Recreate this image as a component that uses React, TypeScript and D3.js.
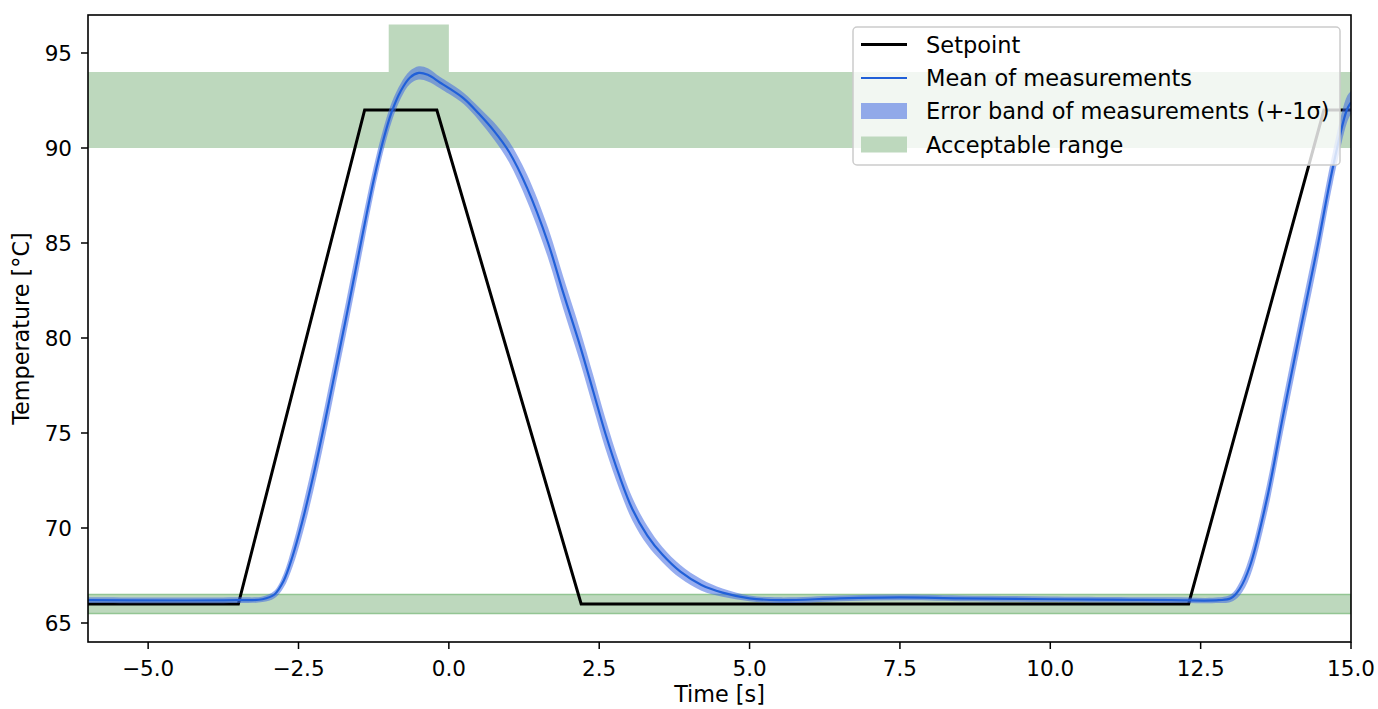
import React from 'react'
import * as d3 from 'd3'

// time axis of the measurement trace [s]
const timeS = [
  -6.0, -3.5, -3.1, -2.9, -2.75, -2.6, -2.44, -2.25, -2.06, -1.88, -1.7, -1.55,
  -1.4, -1.25, -1.1, -0.95, -0.8, -0.65, -0.5, -0.35, -0.15, 0.0, 0.25, 0.5,
  0.75, 1.0, 1.3, 1.65, 1.9, 2.18, 2.4, 2.6, 2.84, 3.05, 3.3, 3.55, 3.85, 4.2,
  4.55, 5.0, 5.5, 6.5, 7.5, 8.5, 10.0, 12.0, 12.8, 13.0, 13.15, 13.32, 13.6,
  13.87, 14.15, 14.43, 14.7, 14.93, 15.0
]
// mean of measurements [°C]
const meanTemp = [
  66.2, 66.2, 66.25, 66.5, 67.2, 68.5, 70.3, 72.8, 75.6, 78.4, 81.2, 83.6,
  86.0, 88.3, 90.3, 91.9, 93.0, 93.7, 93.95, 93.85, 93.45, 93.15, 92.6, 91.8,
  90.9, 89.8, 87.9, 85.0, 82.4, 79.6, 77.2, 75.0, 72.7, 71.0, 69.6, 68.6, 67.7,
  67.0, 66.6, 66.3, 66.2, 66.3, 66.35, 66.3, 66.25, 66.2, 66.2, 66.3, 66.8,
  68.0, 71.5, 75.9, 80.3, 84.6, 89.0, 92.0, 92.4
]
// standard deviation of measurements [°C]
const sigmaTemp = [
  0.15, 0.15, 0.15, 0.2, 0.35, 0.55, 0.7, 0.8, 0.85, 0.85, 0.85, 0.85,
  0.8, 0.7, 0.6, 0.5, 0.4, 0.35, 0.35, 0.35, 0.3, 0.3, 0.3, 0.35,
  0.45, 0.55, 0.7, 0.8, 0.85, 0.85, 0.85, 0.8, 0.7, 0.6, 0.5, 0.4, 0.35,
  0.3, 0.22, 0.15, 0.15, 0.15, 0.15, 0.15, 0.15, 0.15, 0.15, 0.2, 0.35,
  0.55, 0.75, 0.85, 0.85, 0.85, 0.8, 0.7, 0.6
]

const setpointTime = [-6, -3.5, -1.4, -0.2, 2.2, 12.3, 14.55, 15]
const setpointTemp = [66, 66, 92, 92, 66, 66, 92, 92]

// acceptable range boxes
const rangeX0 = [-6, -1, -6]
const rangeX1 = [15, 0, 15]
const rangeLow = [90, 94, 65.5]
const rangeHigh = [94, 96.5, 66.5]

const xTicks = [-5, -2.5, 0, 2.5, 5, 7.5, 10, 12.5, 15]
const yTicks = [65, 70, 75, 80, 85, 90, 95]

const legendLabels = [
  'Setpoint',
  'Mean of measurements',
  'Error band of measurements (+-1σ)',
  'Acceptable range'
]

const W = 1378
const H = 709
const margin = { top: 15, right: 27, bottom: 67, left: 88 }
const font = 'DejaVu Sans, sans-serif'
const green = '#bdd8bd'
const blueBand = '#4169e1'
const blueLine = '#2160d8'

const App = () => {
  const x = d3.scaleLinear().domain([-6, 15]).range([margin.left, W - margin.right])
  const y = d3.scaleLinear().domain([64, 97]).range([H - margin.bottom, margin.top])

  const meas = timeS.map((t, i) => ({ t, m: meanTemp[i], s: sigmaTemp[i] }))
  const sp = setpointTime.map((t, i) => ({ t, v: setpointTemp[i] }))

  const curve = d3.curveCatmullRom.alpha(0.5)
  const meanLine = d3
    .line<any>()
    .x((d) => x(d.t))
    .y((d) => y(d.m))
    .curve(curve)
  const band = d3
    .area<any>()
    .x((d) => x(d.t))
    .y0((d) => y(d.m - d.s))
    .y1((d) => y(d.m + d.s))
    .curve(curve)
  const spLine = d3
    .line<any>()
    .x((d) => x(d.t))
    .y((d) => y(d.v))

  const fmt = d3.format('.1f')
  const x0 = margin.left
  const x1 = W - margin.right
  const y0 = H - margin.bottom
  const y1 = margin.top

  // legend
  const lx = 853
  const ly = 27
  const rowY = [44.5, 78, 111, 144.5]

  return (
    <svg
      width={W}
      height={H}
      style={{ position: 'absolute', left: 0, top: 0, background: '#fff' }}
      fontFamily={font}
    >
      <defs>
        <clipPath id="plot">
          <rect x={x0} y={y1} width={x1 - x0} height={y0 - y1} />
        </clipPath>
      </defs>

      <g clipPath="url(#plot)">
        {rangeX0.map((r, i) => (
          <rect
            key={i}
            x={x(r)}
            y={y(rangeHigh[i])}
            width={x(rangeX1[i]) - x(r)}
            height={y(rangeLow[i]) - y(rangeHigh[i])}
            fill={green}
            stroke={i === 2 ? '#93c593' : 'none'}
            strokeWidth={1.5}
          />
        ))}
        <path d={spLine(sp)} fill="none" stroke="#000" strokeWidth={3} strokeLinejoin="miter" />
        <path d={band(meas)} fill={blueBand} fillOpacity={0.55} />
        <path d={meanLine(meas)} fill="none" stroke={blueLine} strokeWidth={2.2} />
      </g>

      {/* axes frame */}
      <rect x={x0} y={y1} width={x1 - x0} height={y0 - y1} fill="none" stroke="#000" strokeWidth={1.6} />

      {xTicks.map((t) => (
        <g key={t}>
          <line x1={x(t)} x2={x(t)} y1={y0} y2={y0 + 7} stroke="#000" strokeWidth={1.5} />
          <text x={x(t)} y={676} textAnchor="middle" fontSize={21.5}>
            {fmt(t)}
          </text>
        </g>
      ))}
      {yTicks.map((t) => (
        <g key={t}>
          <line x1={x0 - 7} x2={x0} y1={y(t)} y2={y(t)} stroke="#000" strokeWidth={1.5} />
          <text x={72} y={y(t)} dy="0.36em" textAnchor="end" fontSize={21.5}>
            {t}
          </text>
        </g>
      ))}

      <text x={(x0 + x1) / 2} y={702} textAnchor="middle" fontSize={22.3}>
        Time [s]
      </text>
      <text
        transform={`translate(29,${(y0 + y1) / 2}) rotate(-90)`}
        textAnchor="middle"
        fontSize={22.3}
      >
        Temperature [°C]
      </text>

      <g>
        <rect
          x={lx}
          y={ly}
          width={487}
          height={138}
          rx={4}
          fill="#fff"
          fillOpacity={0.8}
          stroke="#cccccc"
          strokeWidth={1.5}
        />
        <line x1={861} x2={907} y1={rowY[0]} y2={rowY[0]} stroke="#000" strokeWidth={3} />
        <line x1={861} x2={907} y1={rowY[1]} y2={rowY[1]} stroke={blueLine} strokeWidth={2} />
        <rect x={861} y={rowY[2] - 8} width={46} height={16} fill={blueBand} fillOpacity={0.55} />
        <rect x={861} y={rowY[3] - 8} width={46} height={16} fill={green} />
        {legendLabels.map((l, i) => (
          <text key={l} x={926} y={rowY[i]} dy="0.36em" fontSize={22.5}>
            {l}
          </text>
        ))}
      </g>
    </svg>
  )
}

export default App
